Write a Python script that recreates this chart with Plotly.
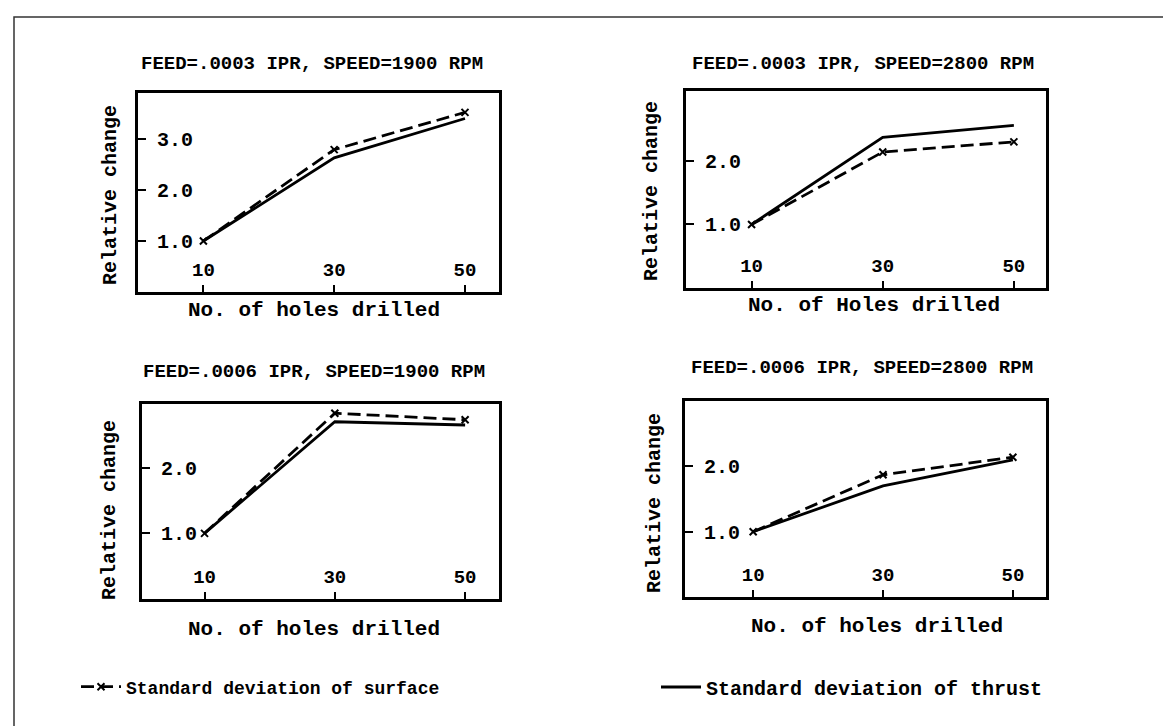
import plotly.graph_objects as go

W, H = 1171, 726

holes = [10, 30, 50]
titles = [
    "FEED=.0003 IPR, SPEED=1900 RPM",
    "FEED=.0003 IPR, SPEED=2800 RPM",
    "FEED=.0006 IPR, SPEED=1900 RPM",
    "FEED=.0006 IPR, SPEED=2800 RPM",
]
xtitles = [
    "No. of holes drilled",
    "No. of Holes drilled",
    "No. of holes drilled",
    "No. of holes drilled",
]
ytitle = "Relative change"
surface = [
    [1.0, 2.79, 3.52],
    [1.0, 2.14, 2.30],
    [1.0, 2.83, 2.73],
    [1.0, 1.87, 2.14],
]
thrust = [
    [1.0, 2.63, 3.40],
    [1.0, 2.37, 2.56],
    [1.0, 2.70, 2.65],
    [1.0, 1.70, 2.10],
]
yticks = [
    [1.0, 2.0, 3.0],
    [1.0, 2.0],
    [1.0, 2.0],
    [1.0, 2.0],
]
legend_names = ["Standard deviation of surface", "Standard deviation of thrust"]

# layout geometry (pixels)
boxes = [  # x0, x1, ytop, ybottom
    (130, 491, 85, 284),
    (678, 1038, 83, 280),
    (134, 491, 396, 591),
    (677, 1038, 393, 589),
]
xranges = [[0, 55.2], [0, 54.9], [0.4, 55.2], [-0.5, 55.1]]
yranges = [[0, 3.9], [0, 3.1], [0, 2.97], [0, 3.0]]
title_pos = [(304, 56), (855, 56), (306, 364), (854, 360)]
xtitle_pos = [(306, 302), (866, 297), (306, 621), (869, 618)]
ytitle_pos = [(102, 187), (644, 183), (101, 502), (647, 495)]

FONT = "Liberation Mono, DejaVu Sans Mono, monospace"

fig = go.Figure()
layout = dict(
    width=W, height=H,
    margin=dict(l=0, r=0, t=0, b=0),
    paper_bgcolor="white", plot_bgcolor="white",
    font=dict(family=FONT, color="black", size=18),
    showlegend=True,
)
annotations = []

for i in range(4):
    x0, x1, yt, yb = boxes[i]
    xa = "xaxis" if i == 0 else f"xaxis{i+1}"
    ya = "yaxis" if i == 0 else f"yaxis{i+1}"
    xr = "x" if i == 0 else f"x{i+1}"
    yr = "y" if i == 0 else f"y{i+1}"
    fig.add_trace(go.Scatter(
        x=holes, y=surface[i], xaxis=xr, yaxis=yr,
        mode="lines+markers", name=legend_names[0], showlegend=(i == 0),
        legend="legend",
        line=dict(color="black", width=2.8, dash="13px,6px"),
        marker=dict(symbol="x-thin", size=7, line=dict(width=2, color="black")),
    ))
    fig.add_trace(go.Scatter(
        x=holes, y=thrust[i], xaxis=xr, yaxis=yr,
        mode="lines", name=legend_names[1], showlegend=(i == 0),
        legend="legend2",
        line=dict(color="black", width=2.8),
    ))
    layout[xa] = dict(
        domain=[x0 / W, x1 / W], range=xranges[i], anchor=yr,
        tickvals=holes, ticks="inside", ticklen=7, tickwidth=1.5, tickcolor="black",
        ticklabelposition="inside", ticklabelstandoff=6,
        tickfont=dict(family=FONT, size=19, weight="bold", color="black"),
        showline=True, linewidth=3, linecolor="black", mirror=True,
        showgrid=False, zeroline=False, fixedrange=True,
    )
    layout[ya] = dict(
        domain=[1 - yb / H, 1 - yt / H], range=yranges[i], anchor=xr,
        tickvals=yticks[i], tickformat=".1f", ticks="inside", ticklen=8,
        tickwidth=2, tickcolor="black",
        ticklabelposition="inside", ticklabelstandoff=12,
        tickfont=dict(family=FONT, size=20, weight="bold", color="black"),
        showline=True, linewidth=3, linecolor="black", mirror=True,
        showgrid=False, zeroline=False, fixedrange=True,
    )
    tx, ty = title_pos[i]
    annotations.append(dict(
        text=titles[i], x=tx / W, y=1 - ty / H, xref="paper", yref="paper",
        showarrow=False, xanchor="center", yanchor="middle",
        font=dict(family=FONT, size=19, weight="bold", color="black"),
    ))
    tx, ty = xtitle_pos[i]
    annotations.append(dict(
        text=xtitles[i], x=tx / W, y=1 - ty / H, xref="paper", yref="paper",
        showarrow=False, xanchor="center", yanchor="middle",
        font=dict(family=FONT, size=21, weight="bold", color="black"),
    ))
    tx, ty = ytitle_pos[i]
    annotations.append(dict(
        text=ytitle, x=tx / W, y=1 - ty / H, xref="paper", yref="paper",
        showarrow=False, xanchor="center", yanchor="middle", textangle=-90,
        font=dict(family=FONT, size=20, weight="bold", color="black"),
    ))

layout["annotations"] = annotations
layout["legend"] = dict(
    x=68 / W, y=1 - 679 / H, xanchor="left", yanchor="middle",
    font=dict(family=FONT, size=18, weight="bold", color="black"),
    bgcolor="rgba(0,0,0,0)", itemwidth=40,
)
layout["legend2"] = dict(
    x=648 / W, y=1 - 679 / H, xanchor="left", yanchor="middle",
    font=dict(family=FONT, size=20, weight="bold", color="black"),
    bgcolor="rgba(0,0,0,0)", itemwidth=40,
)
layout["shapes"] = [dict(
    type="rect", xref="paper", yref="paper",
    x0=6 / W, x1=1166 / W, y0=1 - 721 / H, y1=1 - 9 / H,
    line=dict(color="#333333", width=1.5),
)]
fig.update_layout(**layout)
fig.write_html("out.html")
